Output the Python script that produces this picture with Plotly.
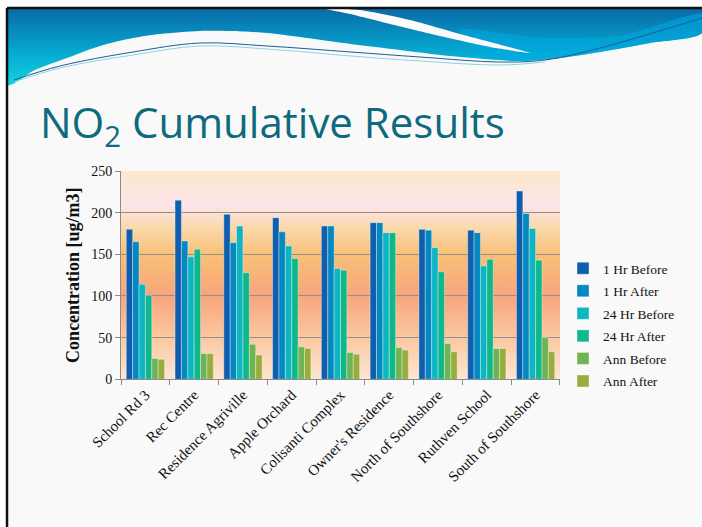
import plotly.graph_objects as go

# ---- data -------------------------------------------------------------
sites = ["School Rd 3", "Rec Centre", "Residence Agriville", "Apple Orchard",
         "Colisanti Complex", "Owner's Residence", "North of Southshore",
         "Ruthven School", "South of Southshore"]

hr1_before = [180, 215, 198, 194, 184, 188, 180, 179, 226]
hr1_after = [165, 166, 164, 177, 184, 188, 179, 176, 199]
hr24_before = [114, 147, 184, 160, 133, 176, 158, 136, 181]
hr24_after = [101, 156, 128, 145, 131, 176, 129, 144, 143]
ann_before = [25, 31, 42, 39, 32, 38, 43, 37, 50]
ann_after = [24, 31, 29, 37, 30, 35, 33, 37, 33]

series_names = ["1 Hr Before", "1 Hr After", "24 Hr Before", "24 Hr After",
                "Ann Before", "Ann After"]
series_values = [hr1_before, hr1_after, hr24_before, hr24_after, ann_before, ann_after]
series_colors = ["#0f5fae", "#0388c2", "#0cb6c2", "#0fb88a", "#6fb454", "#97ae3e"]

y_ticks = [0, 50, 100, 150, 200, 250]

# ---- page geometry ----------------------------------------------------
W, H = 702, 527
DOM_X = [0.1724, 0.7977]
DOM_Y = [0.2803, 0.6755]

SERIF = "Liberation Serif, DejaVu Serif, serif"

fig = go.Figure()


def px_y(y_top):
    """Convert a top-based pixel row to the bottom-based decoration axis."""
    return H - y_top


# ---- slide decoration on a full-page pixel axis (x / y) ---------------
# banner wave
banner = [(7, 8), (200, 8), (450, 8), (702, 8), (702, 33), (650, 43), (600, 52),
          (560, 58), (520, 61), (450, 56), (400, 50), (351, 44), (300, 37),
          (267, 33), (230, 31), (200, 31), (160, 34), (133, 38), (100, 46),
          (67, 58), (35, 70), (7, 85), (7, 8)]
fig.add_trace(go.Scatter(
    x=[p[0] for p in banner], y=[px_y(p[1]) for p in banner],
    mode="lines", line=dict(width=0, shape="spline", smoothing=0.8),
    fill="toself",
    fillgradient=dict(type="vertical",
                      colorscale=[[0, "#12d2e2"], [0.45, "#05a6cf"], [1, "#0a6aa6"]],
                      start=px_y(85), stop=px_y(8)),
    hoverinfo="skip", showlegend=False, xaxis="x", yaxis="y"))

# lighter blue sweep on the right side
sweep = [(460, 30), (540, 38), (620, 36), (702, 14), (702, 33), (650, 43),
         (600, 52), (560, 58), (520, 61), (480, 56), (460, 30)]
fig.add_trace(go.Scatter(
    x=[p[0] for p in sweep], y=[px_y(p[1]) for p in sweep],
    mode="lines", line=dict(width=0, shape="spline", smoothing=0.6),
    fill="toself", fillcolor="rgba(0,170,225,0.55)",
    hoverinfo="skip", showlegend=False, xaxis="x", yaxis="y"))

# white streak across the banner
streak = [(322, 8), (360, 10), (410, 20), (460, 34), (505, 46), (530, 53),
          (490, 47), (440, 36), (390, 24), (350, 14), (322, 8)]
fig.add_trace(go.Scatter(
    x=[p[0] for p in streak], y=[px_y(p[1]) for p in streak],
    mode="lines", line=dict(width=0, shape="spline", smoothing=0.6),
    fill="toself", fillcolor="#fbfbfb",
    hoverinfo="skip", showlegend=False, xaxis="x", yaxis="y"))

# thin accent lines under the wave
accent = [(14, 80), (60, 66), (133, 52), (200, 43), (267, 46), (351, 52),
          (420, 57), (500, 62), (545, 60), (600, 48), (702, 18)]
fig.add_trace(go.Scatter(
    x=[p[0] for p in accent], y=[px_y(p[1]) for p in accent],
    mode="lines", line=dict(width=1, color="#1a5f95", shape="spline"),
    hoverinfo="skip", showlegend=False, xaxis="x", yaxis="y"))
accent2 = [(14, 82), (60, 68), (133, 55), (200, 46), (267, 49), (351, 56),
           (420, 61), (500, 65), (545, 62)]
fig.add_trace(go.Scatter(
    x=[p[0] for p in accent2], y=[px_y(p[1]) for p in accent2],
    mode="lines", line=dict(width=1, color="#8fd3e0", shape="spline"),
    hoverinfo="skip", showlegend=False, xaxis="x", yaxis="y"))

# warm gradient behind the chart's plotting area
gx0, gx1 = DOM_X[0] * W, DOM_X[1] * W
gy0, gy1 = DOM_Y[0] * H, DOM_Y[1] * H
fig.add_trace(go.Scatter(
    x=[gx0, gx1, gx1, gx0, gx0], y=[gy0, gy0, gy1, gy1, gy0],
    mode="lines", line=dict(width=0), fill="toself",
    fillgradient=dict(type="vertical", start=gy0, stop=gy1,
                      colorscale=[[0.0, "#fde6d4"], [0.2, "#fbc8a0"],
                                  [0.4, "#f8a57c"], [0.6, "#f8c077"],
                                  [0.72, "#fad8a8"], [0.84, "#fde5ea"],
                                  [1.0, "#fce8cb"]]),
    hoverinfo="skip", showlegend=False, xaxis="x", yaxis="y"))

# ---- grouped bars ----------------------------------------------------
for i, (name, vals, col) in enumerate(zip(series_names, series_values, series_colors)):
    fig.add_trace(go.Bar(
        x=sites, y=vals, name=name, legendgroup=name,
        marker=dict(color=col, line=dict(color="rgba(255,255,255,0.45)", width=0.8)),
        xaxis="x2", yaxis="y2"))

fig.update_layout(
    width=W, height=H,
    margin=dict(l=0, r=0, t=0, b=0, autoexpand=False),
    paper_bgcolor="#f9f9f9",
    plot_bgcolor="rgba(0,0,0,0)",
    barmode="group", bargap=0.215, bargroupgap=0,
    showlegend=True,
    legend=dict(x=0.802, y=0.52, xanchor="left", yanchor="top",
                font=dict(family=SERIF, size=13.5, color="#111"),
                bgcolor="rgba(0,0,0,0)", tracegroupgap=2,
                itemwidth=30),
    xaxis=dict(domain=[0, 1], range=[0, W], visible=False, fixedrange=True,
               automargin=False),
    yaxis=dict(domain=[0, 1], range=[0, H], visible=False, fixedrange=True,
               automargin=False),
    xaxis2=dict(domain=DOM_X, anchor="y2", type="category", automargin=False,
                showline=True, linecolor="#8a8a8a", linewidth=1,
                ticks="outside", tickson="boundaries", ticklen=5,
                tickcolor="#8a8a8a", tickangle=-45,
                tickfont=dict(family=SERIF, size=15, color="#111"),
                showgrid=False),
    yaxis2=dict(domain=DOM_Y, anchor="x2", range=[0, 250], automargin=False,
                tickvals=y_ticks, ticks="outside", ticklen=5,
                tickcolor="#8a8a8a", showline=True, linecolor="#8a8a8a",
                linewidth=1, showgrid=True, gridcolor="#8f8f8f", gridwidth=1,
                zeroline=False,
                tickfont=dict(family=SERIF, size=14, color="#111"),
                title=dict(text="<b>Concentration [ug/m3]</b>",
                           font=dict(family=SERIF, size=18, color="#111"),
                           standoff=6)),
)

# slide title
fig.add_annotation(
    text="NO<sub>2</sub> Cumulative Results", xref="paper", yref="paper",
    x=38 / W, y=1 - 124 / H, xanchor="left", yanchor="middle", showarrow=False,
    font=dict(family="Open Sans, Lato, sans-serif", size=42, color="#0e6a7f"))

# white margin and dark slide border
fig.add_shape(type="rect", xref="paper", yref="paper", x0=0, x1=1,
              y0=1 - 7 / H, y1=1, fillcolor="white", line=dict(width=0), layer="above")
fig.add_shape(type="rect", xref="paper", yref="paper", x0=0, x1=6 / W,
              y0=0, y1=1, fillcolor="white", line=dict(width=0), layer="above")
fig.add_shape(type="line", xref="paper", yref="paper", x0=7 / W, x1=1,
              y0=1 - 8 / H, y1=1 - 8 / H, line=dict(color="#111", width=2.5), layer="above")
fig.add_shape(type="line", xref="paper", yref="paper", x0=7 / W, x1=7 / W,
              y0=0, y1=1 - 8 / H, line=dict(color="#111", width=2.5), layer="above")

fig.write_html("out.html")
